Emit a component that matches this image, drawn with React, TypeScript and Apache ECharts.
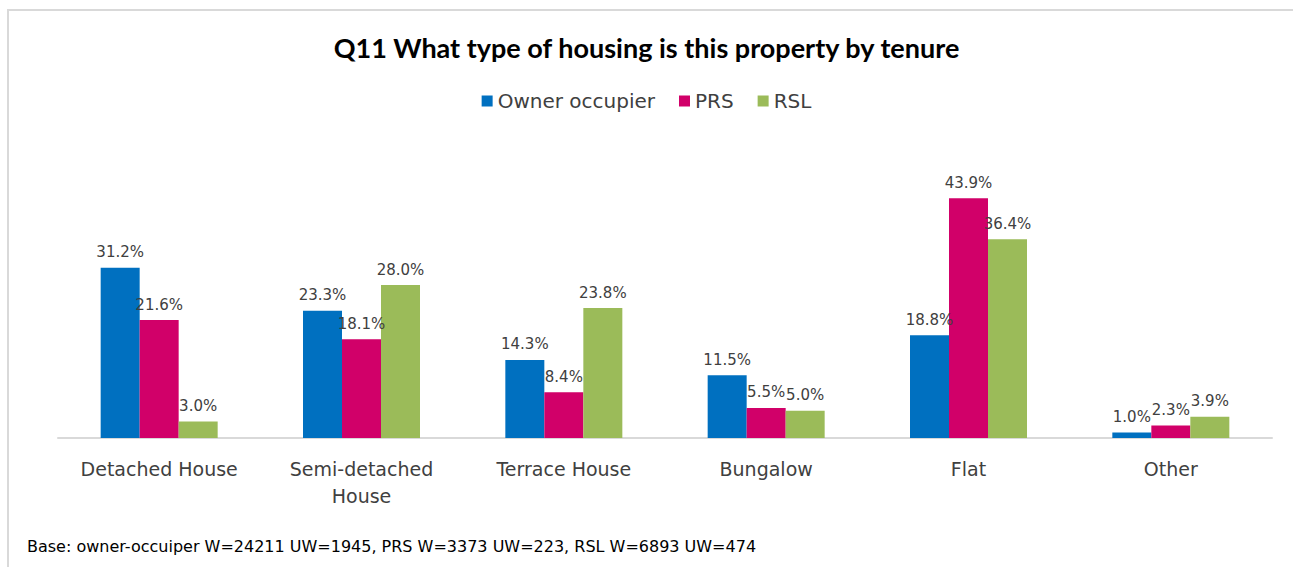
import React, { useEffect, useRef } from "react";
import * as echarts from "echarts";

const categories = ["Detached House", "Semi-detached\nHouse", "Terrace House", "Bungalow", "Flat", "Other"];
const ownerOccupier = [31.2, 23.3, 14.3, 11.5, 18.8, 1.0];
const prs = [21.6, 18.1, 8.4, 5.5, 43.9, 2.3];
const rsl = [3.0, 28.0, 23.8, 5.0, 36.4, 3.9];
const seriesNames = ["Owner occupier", "PRS", "RSL"];
const colors = ["#0070C0", "#D10069", "#9BBB59"];

const FONT = "DejaVu Sans";

export default function App() {
  const ref = useRef<HTMLDivElement>(null);
  useEffect(() => {
    document.body.style.margin = "0";
    const chart = echarts.init(ref.current!, null, { renderer: "svg" });
    const data = [ownerOccupier, prs, rsl];
    chart.setOption({
      animation: false,
      backgroundColor: "#ffffff",
      title: {
        text: "Q11 What type of housing is this property by tenure",
        left: "center",
        top: 29,
        textStyle: { fontFamily: "Lato", fontWeight: "bold", fontSize: 27, color: "#000000" },
      },
      legend: {
        top: 86,
        left: "center",
        itemWidth: 11,
        itemHeight: 11,
        itemGap: 24,
        icon: "rect",
        textStyle: { fontFamily: FONT, fontSize: 20, color: "#404040" },
        data: seriesNames,
      },
      grid: { left: 58, right: 21, top: 165, bottom: 129 },
      xAxis: {
        type: "category",
        data: categories,
        axisLine: { lineStyle: { color: "#d9d9d9", width: 2 } },
        axisTick: { show: false },
        axisLabel: { fontFamily: FONT, fontSize: 19, color: "#404040", margin: 17, lineHeight: 27, interval: 0 },
      },
      yAxis: { type: "value", min: 0, max: 50, show: false, splitLine: { show: false } },
      series: seriesNames.map((name, i) => ({
        name,
        type: "bar",
        data: data[i],
        barWidth: 39,
        barGap: "0%",
        itemStyle: { color: colors[i] },
        label: {
          show: true,
          position: "top",
          distance: 8,
          formatter: (p: any) => p.value.toFixed(1) + "%",
          fontFamily: FONT,
          fontSize: 15,
          color: "#404040",
        },
      })),
      graphic: [
        { type: "line", shape: { x1: 7, y1: 10, x2: 1293, y2: 10 }, style: { stroke: "#d9d9d9", lineWidth: 2 } },
        { type: "line", shape: { x1: 8, y1: 10, x2: 8, y2: 567 }, style: { stroke: "#d9d9d9", lineWidth: 2 } },
        {
          type: "text",
          left: 27,
          top: 538,
          style: {
            text: "Base: owner-occuiper W=24211 UW=1945, PRS W=3373 UW=223, RSL W=6893 UW=474",
            font: `16px "${FONT}"`,
            fill: "#000000",
          },
        },
      ],
    });
    return () => chart.dispose();
  }, []);
  return <div ref={ref} style={{ width: 1293, height: 567 }} />;
}
